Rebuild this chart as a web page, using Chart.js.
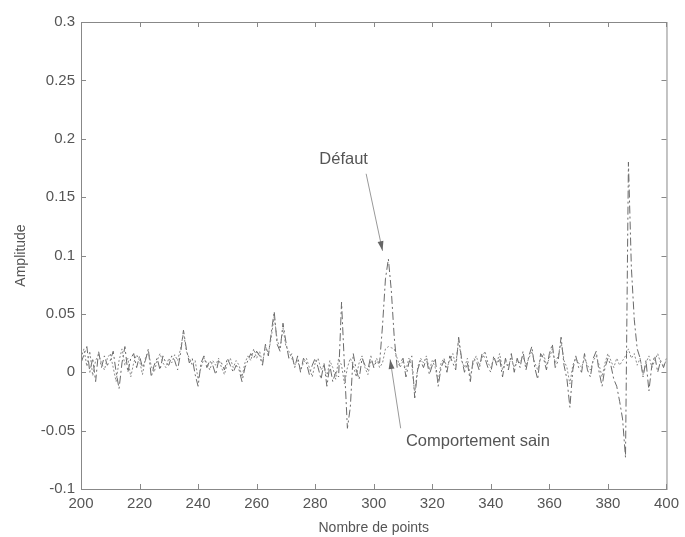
<!DOCTYPE html>
<html>
<head>
<meta charset="utf-8">
<script src="https://cdn.jsdelivr.net/npm/chart.js"></script>
<style>
  html, body { margin: 0; padding: 0; background: #fff; }
  canvas { display: block; }
</style>
</head>
<body>
<canvas id="myChart" width="685" height="537"></canvas>
<script>
// points 200..400
const firstPoint = 200;
const lastPoint = 400;

// comportement sain (trait fin pointillé)
const healthy = [
  0.012, 0.02, 0.005, 0.018, -0.003, 0.01, 0.015, 0.008, 0.002, 0.012,
  0.016, 0.004, -0.008, 0.01, 0.02, 0.006, 0.012, -0.004, 0.008, 0.015,
  0.01, -0.002, 0.012, 0.018, 0.005, 0.0, 0.01, 0.016, 0.008, 0.004,
  0.012, 0.008, 0.015, 0.01, 0.02, 0.034, 0.018, 0.012, 0.006, 0.01,
  -0.006, 0.004, 0.012, 0.008, 0.002, 0.01, 0.006, 0.012, 0.004, -0.002,
  0.008, 0.012, 0.004, 0.01, 0.006, -0.004, 0.008, 0.014, 0.01, 0.02,
  0.012, 0.018, 0.008, 0.022, 0.016, 0.03, 0.048, 0.028, 0.02, 0.038,
  0.022, 0.018, 0.012, 0.006, 0.01, 0.002, 0.008, 0.012, 0.004, -0.004,
  0.008, 0.012, 0.002, 0.006, -0.004, 0.01, 0.004, -0.006, 0.012, 0.006,
  -0.01, 0.004, 0.012, 0.006, -0.004, 0.008, 0.014, 0.004, -0.002, 0.01,
  0.006, 0.012, 0.004, 0.008, 0.02, 0.022, 0.021, 0.02, 0.012, 0.004,
  0.01, 0.002, 0.012, 0.006, -0.018, 0.004, 0.012, 0.008, 0.014, 0.002,
  0.01, 0.004, -0.008, 0.008, 0.012, 0.004, 0.01, 0.016, 0.006, 0.028,
  0.01, 0.004, 0.012, -0.004, 0.008, 0.014, 0.006, 0.012, 0.018, 0.008,
  0.004, 0.012, 0.008, 0.016, 0.002, 0.01, 0.006, 0.012, 0.004, 0.01,
  0.008, 0.014, 0.006, 0.012, 0.018, 0.008, 0.002, 0.012, 0.016, 0.006,
  0.012, 0.02, 0.008, 0.014, 0.026, 0.01, 0.004, -0.01, 0.006, 0.012,
  0.008, 0.004, 0.012, 0.006, 0.002, 0.01, 0.014, 0.006, -0.004, 0.008,
  0.016, 0.01, 0.004, 0.012, 0.006, 0.01, 0.014, 0.02, 0.012, 0.016,
  0.006, 0.012, -0.002, 0.008, 0.014, 0.004, 0.01, 0.016, 0.008, 0.006,
  0.01
];

// signal avec défaut (trait mixte)
const faulty = [
  0.008, 0.015, 0.022, 0.0, 0.012, -0.008, 0.018, 0.004, 0.014, 0.006,
  0.01, 0.018, 0.0, -0.014, 0.008, 0.022, 0.0, 0.012, 0.016, 0.004,
  0.014, 0.004, 0.01, 0.02, -0.004, 0.006, 0.012, 0.002, 0.014, 0.008,
  0.006, 0.014, 0.01, 0.002, 0.016, 0.036, 0.02, 0.008, 0.012, -0.002,
  -0.012, 0.008, 0.014, 0.004, 0.01, 0.006, -0.002, 0.01, 0.008, 0.002,
  0.012, 0.006, 0.0, 0.006, 0.002, -0.008, 0.004, 0.01, 0.016, 0.012,
  0.018, 0.014, 0.006, 0.024, 0.014, 0.034, 0.052, 0.024, 0.018, 0.042,
  0.026, 0.012, 0.016, 0.004, 0.014, 0.0, 0.012, 0.008, -0.002, 0.006,
  0.012, 0.004, -0.006, 0.008, -0.012, 0.006, -0.008, 0.0, -0.004, 0.06,
  0.005, -0.048, -0.03, 0.016, 0.002, -0.006, 0.012, 0.006, 0.002, 0.014,
  0.004, 0.01, 0.008, 0.04, 0.08, 0.097, 0.07, 0.03, 0.004, 0.008,
  0.012, -0.004, 0.008, 0.014, -0.022, 0.002, 0.01, 0.004, 0.012, -0.002,
  0.006, 0.012, -0.012, 0.004, 0.01, 0.0, 0.014, 0.008, 0.002, 0.03,
  0.012, 0.0, 0.008, -0.008, 0.012, 0.01, 0.002, 0.016, 0.012, 0.004,
  0.0, 0.014, 0.006, 0.012, -0.004, 0.012, 0.002, 0.016, 0.0, 0.012,
  0.004, 0.018, 0.002, 0.014, 0.022, 0.004, -0.006, 0.016, 0.012, 0.002,
  0.016, 0.024, 0.004, 0.01, 0.03, 0.006, -0.006, -0.03, 0.002, 0.014,
  0.004, 0.0, 0.016, 0.002, -0.004, 0.012, 0.018, 0.0, -0.012, 0.004,
  0.012, 0.006, -0.006, -0.012, -0.025, -0.04, -0.073, 0.18, 0.09, 0.045,
  0.02, 0.012, -0.004, 0.01, -0.016, 0.006, 0.014, 0.0, 0.01, 0.004,
  0.012
];

const xTicks = [200, 220, 240, 260, 280, 300, 320, 340, 360, 380, 400];
const yTicks = [-0.1, -0.05, 0, 0.05, 0.1, 0.15, 0.2, 0.25, 0.3];
const yTickLabels = ["-0.1", "-0.05", "0", "0.05", "0.1", "0.15", "0.2", "0.25", "0.3"];

// annotations : texte + flèche (coordonnées en unités du graphe)
const notes = [
  { text: "Défaut", tx: 289.7, ty: 0.182, align: "center", from: [297.4, 0.170], to: [303.0, 0.104] },
  { text: "Comportement sain", tx: 311.0, ty: -0.059, align: "left", from: [309.2, -0.048], to: [305.6, 0.011] }
];

const toXY = (arr) => arr.map((v, i) => ({ x: firstPoint + i, y: v }));

const FONT = "'Liberation Sans', Arial, sans-serif";
const INK = "#555";

// cadre + graduations vers l'intérieur (style matlab)
const framePlugin = {
  id: "frame",
  afterDraw(chart) {
    const { ctx, chartArea: a, scales } = chart;
    ctx.save();
    ctx.strokeStyle = "#888";
    ctx.lineWidth = 1;
    ctx.strokeRect(a.left + 0.5, a.top + 0.5, a.right - a.left, a.bottom - a.top);
    ctx.beginPath();
    xTicks.forEach((v) => {
      const px = Math.round(scales.x.getPixelForValue(v)) + 0.5;
      ctx.moveTo(px, a.bottom); ctx.lineTo(px, a.bottom - 5);
      ctx.moveTo(px, a.top); ctx.lineTo(px, a.top + 5);
    });
    yTicks.forEach((v) => {
      const py = Math.round(scales.y.getPixelForValue(v)) + 0.5;
      ctx.moveTo(a.left, py); ctx.lineTo(a.left + 5, py);
      ctx.moveTo(a.right, py); ctx.lineTo(a.right - 5, py);
    });
    ctx.stroke();

    // annotations
    ctx.font = "16.5px " + FONT;
    ctx.fillStyle = INK;
    ctx.textBaseline = "middle";
    notes.forEach((n) => {
      ctx.textAlign = n.align;
      ctx.fillText(n.text, scales.x.getPixelForValue(n.tx), scales.y.getPixelForValue(n.ty));
      const x0 = scales.x.getPixelForValue(n.from[0]), y0 = scales.y.getPixelForValue(n.from[1]);
      const x1 = scales.x.getPixelForValue(n.to[0]), y1 = scales.y.getPixelForValue(n.to[1]);
      ctx.strokeStyle = "#999";
      ctx.beginPath();
      ctx.moveTo(x0, y0); ctx.lineTo(x1, y1);
      ctx.stroke();
      const ang = Math.atan2(y1 - y0, x1 - x0);
      ctx.fillStyle = "#666";
      ctx.beginPath();
      ctx.moveTo(x1, y1);
      ctx.lineTo(x1 - 10 * Math.cos(ang - 0.3), y1 - 10 * Math.sin(ang - 0.3));
      ctx.lineTo(x1 - 10 * Math.cos(ang + 0.3), y1 - 10 * Math.sin(ang + 0.3));
      ctx.closePath();
      ctx.fill();
      ctx.fillStyle = INK;
    });
    ctx.restore();
  }
};

const config = {
  type: "line",
  data: {
    datasets: [
      {
        label: "Comportement sain",
        data: toXY(healthy),
        borderColor: "#8a8a8a",
        borderWidth: 1,
        borderDash: [2, 2],
        pointRadius: 0,
        tension: 0
      },
      {
        label: "Défaut",
        data: toXY(faulty),
        borderColor: "#6a6a6a",
        borderWidth: 1,
        borderDash: [8, 3, 2, 3],
        pointRadius: 0,
        tension: 0
      }
    ]
  },
  options: {
    responsive: false,
    animation: false,
    layout: { padding: { left: 0, right: 13, top: 22, bottom: 0 } },
    plugins: {
      legend: { display: false },
      tooltip: { enabled: false }
    },
    scales: {
      x: {
        type: "linear",
        min: firstPoint,
        max: lastPoint,
        grid: { display: false, drawTicks: false },
        border: { display: false },
        afterBuildTicks: (s) => { s.ticks = xTicks.map((v) => ({ value: v })); },
        afterFit: (s) => { s.height = 48; },
        ticks: {
          padding: 6,
          color: INK,
          font: { family: FONT, size: 15 },
          maxRotation: 0,
          callback: (v) => String(v)
        },
        title: {
          display: true,
          text: "Nombre de points",
          color: INK,
          font: { family: FONT, size: 14 },
          padding: { top: 0, bottom: 0 }
        }
      },
      y: {
        type: "linear",
        min: -0.1,
        max: 0.3,
        grid: { display: false, drawTicks: false },
        border: { display: false },
        afterBuildTicks: (s) => { s.ticks = yTicks.map((v) => ({ value: v })); },
        afterFit: (s) => { s.width = 81; },
        ticks: {
          padding: 6,
          color: INK,
          font: { family: FONT, size: 15 },
          callback: (v) => yTickLabels[yTicks.findIndex((t) => Math.abs(t - v) < 1e-9)]
        },
        title: {
          display: true,
          text: "Amplitude",
          color: INK,
          font: { family: FONT, size: 14 },
          padding: { top: 13, bottom: 0 }
        }
      }
    }
  },
  plugins: [framePlugin]
};

const myChart = new Chart(document.getElementById("myChart"), config);
</script>
</body>
</html>
